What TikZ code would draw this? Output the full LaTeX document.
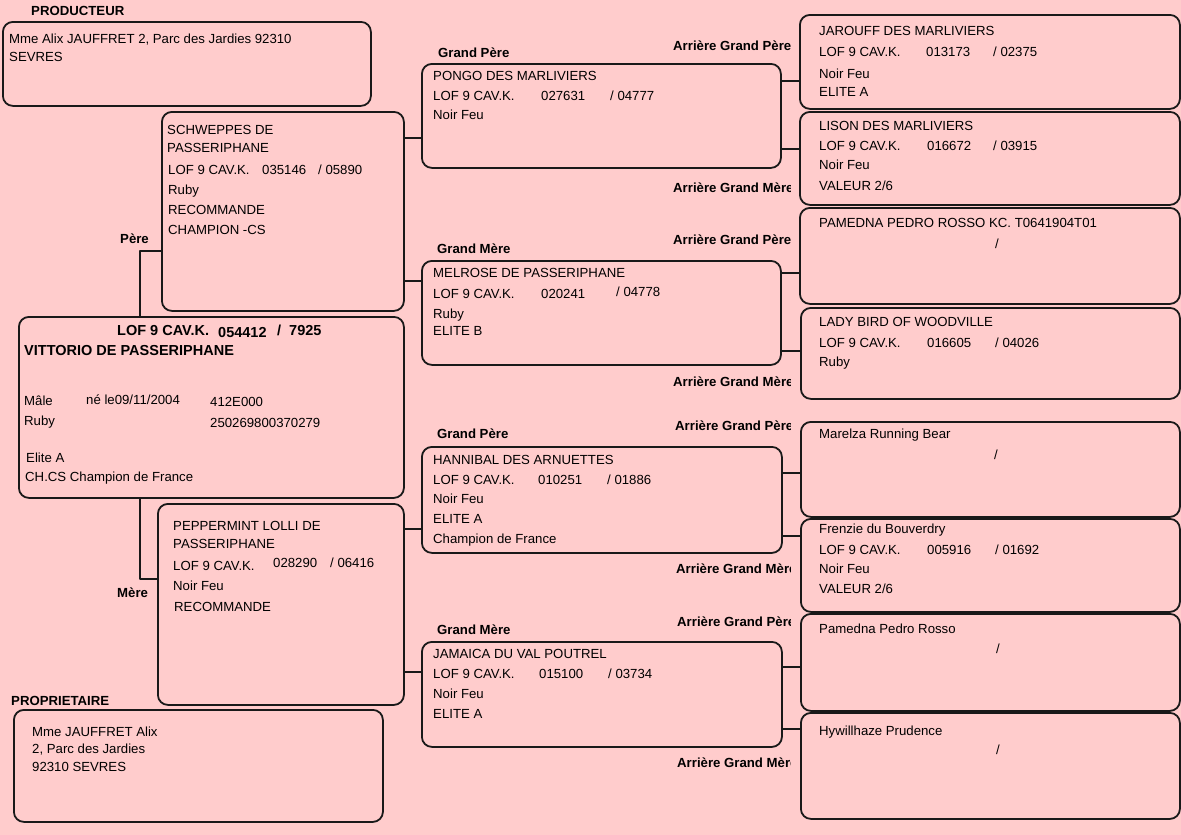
\documentclass[tikz,border=0pt]{standalone}
\usepackage{fontspec}
\setmainfont{Liberation Sans}
\usepackage{tikz}
\definecolor{ffcccc}{rgb}{1,0.8,0.8}
\definecolor{zzttqq}{rgb}{0.1,0.1,0.1}
\tikzset{
  box/.style={draw=zzttqq,line width=1.8pt,rounded corners=10pt,inner sep=0pt,anchor=north west},
  txt/.style={anchor=base west,inner sep=0pt,font=\fontsize{13.2}{15}\selectfont},
  lbl/.style={txt,font=\fontsize{13.2}{15}\selectfont\bfseries},
  big/.style={txt,font=\fontsize{14.5}{17}\selectfont\bfseries},
  conn/.style={draw=zzttqq,line width=1.8pt}
}
\begin{document}
\begin{tikzpicture}[line cap=round,line join=round,x=1pt,y=-1pt]
	\fill[ffcccc] (0,0) rectangle (1181,835);
	\useasboundingbox (0,0) rectangle (1181,835);
	\node[box,minimum width=368,minimum height=84] (producteur) at (2,21) {};
	\node[box,minimum width=242,minimum height=199] (schweppes) at (161,111) {};
	\node[box,minimum width=385,minimum height=181] (vittorio) at (18,316) {};
	\node[box,minimum width=246,minimum height=201] (peppermint) at (157,503) {};
	\node[box,minimum width=369,minimum height=112] (proprietaire) at (13,709) {};
	\node[box,minimum width=359,minimum height=104] (pongo) at (421,63) {};
	\node[box,minimum width=359,minimum height=104] (melrose) at (421,260) {};
	\node[box,minimum width=360,minimum height=106] (hannibal) at (421,446) {};
	\node[box,minimum width=360,minimum height=105] (jamaica) at (421,641) {};
	\node[box,minimum width=380,minimum height=94] (jarouff) at (799,14) {};
	\node[box,minimum width=380,minimum height=93] (lison) at (799,111) {};
	\node[box,minimum width=380,minimum height=96] (pamedna) at (799,207) {};
	\node[box,minimum width=379,minimum height=91] (ladybird) at (800,307) {};
	\node[box,minimum width=379,minimum height=95] (marelza) at (800,421) {};
	\node[box,minimum width=379,minimum height=93] (frenzie) at (800,518) {};
	\node[box,minimum width=379,minimum height=97] (pedrorosso) at (800,613) {};
	\node[box,minimum width=379,minimum height=106] (hywillhaze) at (800,712) {};
	\draw[conn] (vittorio.north -| 140,0) |- (schweppes.west |- 0,251);
	\draw[conn] (vittorio.south -| 140,0) |- (peppermint.west |- 0,579);
	\draw[conn] (schweppes.east |- 0,138) -- (pongo.west |- 0,138);
	\draw[conn] (schweppes.east |- 0,281) -- (melrose.west |- 0,281);
	\draw[conn] (peppermint.east |- 0,529) -- (hannibal.west |- 0,529);
	\draw[conn] (peppermint.east |- 0,672) -- (jamaica.west |- 0,672);
	\draw[conn] (pongo.east |- 0,81) -- (jarouff.west |- 0,81);
	\draw[conn] (pongo.east |- 0,149) -- (lison.west |- 0,149);
	\draw[conn] (melrose.east |- 0,273) -- (pamedna.west |- 0,273);
	\draw[conn] (melrose.east |- 0,351) -- (ladybird.west |- 0,351);
	\draw[conn] (hannibal.east |- 0,473) -- (marelza.west |- 0,473);
	\draw[conn] (hannibal.east |- 0,536) -- (frenzie.west |- 0,536);
	\draw[conn] (jamaica.east |- 0,667) -- (pedrorosso.west |- 0,667);
	\draw[conn] (jamaica.east |- 0,729) -- (hywillhaze.west |- 0,729);
	\node[lbl] (lab-prod) at (31,16) {PRODUCTEUR};
	\node[lbl] (lab-pere) at (120,243) {Père};
	\node[lbl] (lab-mere) at (117,597) {Mère};
	\node[lbl] (lab-prop) at (11,705) {PROPRIETAIRE};
	\node[lbl] (lab-gp1) at (438,57) {Grand Père};
	\node[lbl] (lab-gm1) at (437,253) {Grand Mère};
	\node[lbl] (lab-gp2) at (437,438) {Grand Père};
	\node[lbl] (lab-gm2) at (437,634) {Grand Mère};
	\begin{scope}
	  \clip (600,0) rectangle (790,835);
	  \node[lbl] (lab-agp1) at (673,50) {Arrière Grand Père};
	  \node[lbl] (lab-agm1) at (673,192) {Arrière Grand Mère};
	  \node[lbl] (lab-agp2) at (673,244) {Arrière Grand Père};
	  \node[lbl] (lab-agm2) at (673,386) {Arrière Grand Mère};
	  \node[lbl] (lab-agp3) at (675,430) {Arrière Grand Père};
	  \node[lbl] (lab-agm3) at (676,573) {Arrière Grand Mère};
	  \node[lbl] (lab-agp4) at (677,626) {Arrière Grand Père};
	  \node[lbl] (lab-agm4) at (677,767) {Arrière Grand Mère};
	\end{scope}
	\node[txt] (prod-1) at (9,43) {Mme Alix JAUFFRET 2, Parc des Jardies 92310};
	\node[txt] (prod-2) at (9,61) {SEVRES};
	\node[txt] (sch-1) at (167,134) {SCHWEPPES DE};
	\node[txt] (sch-2) at (167,152) {PASSERIPHANE};
	\node[txt] (sch-3) at (168,174) {LOF 9 CAV.K.};
	\node[txt] (sch-4) at (262,174) {035146};
	\node[txt] (sch-5) at (318,174) {/ 05890};
	\node[txt] (sch-6) at (168,194) {Ruby};
	\node[txt] (sch-7) at (168,214) {RECOMMANDE};
	\node[txt] (sch-8) at (168,234) {CHAMPION -CS};
	\node[big] (vit-1) at (117,335) {LOF 9 CAV.K.};
	\node[big] (vit-2) at (218,337) {054412};
	\node[big] (vit-3) at (277,335) {/};
	\node[big] (vit-4) at (289,335) {7925};
	\node[big] (vit-5) at (24,355) {VITTORIO DE PASSERIPHANE};
	\node[txt] (vit-6) at (24,405) {Mâle};
	\node[txt] (vit-7) at (86,404) {né le09/11/2004};
	\node[txt] (vit-8) at (210,406) {412E000};
	\node[txt] (vit-9) at (24,425) {Ruby};
	\node[txt] (vit-10) at (210,427) {250269800370279};
	\node[txt] (vit-11) at (26,462) {Elite A};
	\node[txt] (vit-12) at (25,481) {CH.CS Champion de France};
	\node[txt] (pep-1) at (173,530) {PEPPERMINT LOLLI DE};
	\node[txt] (pep-2) at (173,548) {PASSERIPHANE};
	\node[txt] (pep-3) at (173,570) {LOF 9 CAV.K.};
	\node[txt] (pep-4) at (273,567) {028290};
	\node[txt] (pep-5) at (330,567) {/ 06416};
	\node[txt] (pep-6) at (173,590) {Noir Feu};
	\node[txt] (pep-7) at (174,611) {RECOMMANDE};
	\node[txt] (prop-1) at (32,736) {Mme JAUFFRET Alix};
	\node[txt] (prop-2) at (32,753) {2, Parc des Jardies};
	\node[txt] (prop-3) at (32,771) {92310 SEVRES};
	\node[txt] (pon-1) at (433,80) {PONGO DES MARLIVIERS};
	\node[txt] (pon-2) at (433,100) {LOF 9 CAV.K.};
	\node[txt] (pon-3) at (541,100) {027631};
	\node[txt] (pon-4) at (610,100) {/ 04777};
	\node[txt] (pon-5) at (433,119) {Noir Feu};
	\node[txt] (mel-1) at (433,277) {MELROSE DE PASSERIPHANE};
	\node[txt] (mel-2) at (433,298) {LOF 9 CAV.K.};
	\node[txt] (mel-3) at (541,298) {020241};
	\node[txt] (mel-4) at (616,296) {/ 04778};
	\node[txt] (mel-5) at (433,318) {Ruby};
	\node[txt] (mel-6) at (433,335) {ELITE B};
	\node[txt] (han-1) at (433,464) {HANNIBAL DES ARNUETTES};
	\node[txt] (han-2) at (433,484) {LOF 9 CAV.K.};
	\node[txt] (han-3) at (538,484) {010251};
	\node[txt] (han-4) at (607,484) {/ 01886};
	\node[txt] (han-5) at (433,503) {Noir Feu};
	\node[txt] (han-6) at (433,523) {ELITE A};
	\node[txt] (han-7) at (433,543) {Champion de France};
	\node[txt] (jam-1) at (433,658) {JAMAICA DU VAL POUTREL};
	\node[txt] (jam-2) at (433,678) {LOF 9 CAV.K.};
	\node[txt] (jam-3) at (539,678) {015100};
	\node[txt] (jam-4) at (608,678) {/ 03734};
	\node[txt] (jam-5) at (433,698) {Noir Feu};
	\node[txt] (jam-6) at (433,718) {ELITE A};
	\node[txt] (jar-1) at (819,35) {JAROUFF DES MARLIVIERS};
	\node[txt] (jar-2) at (819,56) {LOF 9 CAV.K.};
	\node[txt] (jar-3) at (926,56) {013173};
	\node[txt] (jar-4) at (993,56) {/ 02375};
	\node[txt] (jar-5) at (819,78) {Noir Feu};
	\node[txt] (jar-6) at (819,96) {ELITE A};
	\node[txt] (lis-1) at (819,130) {LISON DES MARLIVIERS};
	\node[txt] (lis-2) at (819,150) {LOF 9 CAV.K.};
	\node[txt] (lis-3) at (927,150) {016672};
	\node[txt] (lis-4) at (993,150) {/ 03915};
	\node[txt] (lis-5) at (819,169) {Noir Feu};
	\node[txt] (lis-6) at (819,190) {VALEUR 2/6};
	\node[txt] (pam-1) at (819,227) {PAMEDNA PEDRO ROSSO KC. T0641904T01};
	\node[txt] (pam-2) at (995,248) {/};
	\node[txt] (lad-1) at (819,326) {LADY BIRD OF WOODVILLE};
	\node[txt] (lad-2) at (819,347) {LOF 9 CAV.K.};
	\node[txt] (lad-3) at (927,347) {016605};
	\node[txt] (lad-4) at (995,347) {/ 04026};
	\node[txt] (lad-5) at (819,366) {Ruby};
	\node[txt] (mar-1) at (819,438) {Marelza Running Bear};
	\node[txt] (mar-2) at (994,459) {/};
	\node[txt] (fre-1) at (819,533) {Frenzie du Bouverdry};
	\node[txt] (fre-2) at (819,554) {LOF 9 CAV.K.};
	\node[txt] (fre-3) at (927,554) {005916};
	\node[txt] (fre-4) at (995,554) {/ 01692};
	\node[txt] (fre-5) at (819,573) {Noir Feu};
	\node[txt] (fre-6) at (819,593) {VALEUR 2/6};
	\node[txt] (ped-1) at (819,633) {Pamedna Pedro Rosso};
	\node[txt] (ped-2) at (996,653) {/};
	\node[txt] (hyw-1) at (819,735) {Hywillhaze Prudence};
	\node[txt] (hyw-2) at (996,754) {/};
\end{tikzpicture}
\end{document}
